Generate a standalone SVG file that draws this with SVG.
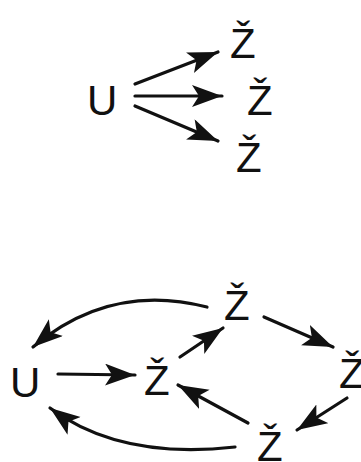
<svg xmlns="http://www.w3.org/2000/svg" width="361" height="462" viewBox="0 0 361 462">
<defs>
<style>
text{font-family:"Liberation Sans","DejaVu Sans",sans-serif;font-size:42px;fill:#111}
.c path{fill:none;stroke:#111;stroke-width:3.2;stroke-linecap:round;marker-end:url(#ah)}
</style>
<marker id="ah" markerUnits="userSpaceOnUse" markerWidth="34" markerHeight="26" refX="30" refY="11" orient="auto">
<path d="M0,0 L30,11 L0,22 L7,11 z" fill="#111"/>
</marker>
</defs>
<rect width="361" height="462" fill="#fff"/>
<g class="c" id="connectors">
<path d="M135,84 L218,52"/>
<path d="M135,96 L222,96"/>
<path d="M135,106 L218,141"/>
<path d="M58,374 L135,375"/>
<path d="M180,357 L223,328"/>
<path d="M264,317 L333,347"/>
<path d="M347,398 L297,430"/>
<path d="M248,423 L178,385"/>
<path d="M207,307 Q110,282 33,347"/>
<path d="M235,447 Q120,460 50,408"/>
</g>
<g id="n1"><text x="87" y="115">U</text></g>
<g id="n2"><text x="230" y="58">Ž</text></g>
<g id="n3"><text x="247" y="115">Ž</text></g>
<g id="n4"><text x="236" y="172">Ž</text></g>
<g id="n5"><text x="10" y="397">U</text></g>
<g id="n6"><text x="144" y="395">Ž</text></g>
<g id="n7"><text x="224" y="320">Ž</text></g>
<g id="n8"><text x="339" y="388">Ž</text></g>
<g id="n9"><text x="257" y="461">Ž</text></g>
</svg>
